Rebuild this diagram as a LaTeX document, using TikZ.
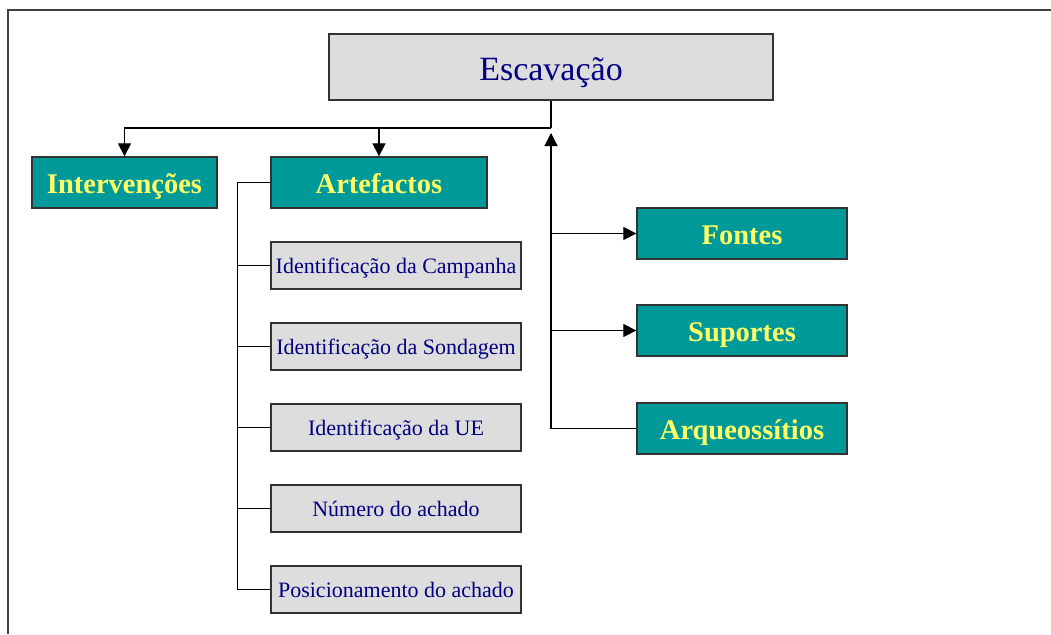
\documentclass[tikz,border=0pt]{standalone}
\usepackage{fontspec}
\setmainfont{Liberation Serif}
\usepackage{xcolor}
\usepackage{tikz}
\usetikzlibrary{arrows.meta}

\definecolor{tealbox}{HTML}{009999}
\definecolor{yellowtxt}{HTML}{FFFF66}
\definecolor{greybox}{HTML}{DDDDDD}
\definecolor{navytxt}{HTML}{000080}

\begin{document}
\begin{tikzpicture}[x=1pt,y=-1pt,
            every node/.style={draw=black!80,line width=1.3pt,inner sep=0pt,text depth=0pt},
            topbox/.style={fill=greybox,text=navytxt,minimum width=444pt,minimum height=66pt,text height=28pt,font=\fontsize{34}{36}\selectfont},
            mainbox/.style={fill=tealbox,text=yellowtxt,minimum height=51pt,text height=21pt,font=\fontsize{28.5}{30}\selectfont\bfseries},
            subbox/.style={fill=greybox,text=navytxt,minimum width=250pt,minimum height=47pt,text height=15.6pt,font=\fontsize{22}{24}\selectfont},
            link/.style={line width=1.2pt,-{Triangle[length=13pt,width=13pt]}}]
        \useasboundingbox (0,0) rectangle (1051,634);
        \draw[black!75,line width=1.6pt] (1051,10) -- (8,10) -- (8,634);

        \node[topbox] (esc) at (551,67) {Escavação};
        \node[mainbox,minimum width=185pt] (interv) at (124.5,182.5) {Intervenções};
        \node[mainbox,minimum width=216pt] (artef) at (379,182.5) {Artefactos};
        \node[mainbox,minimum width=210pt] (fontes) at (742,233.5) {Fontes};
        \node[mainbox,minimum width=210pt] (suport) at (742,330.5) {Suportes};
        \node[mainbox,minimum width=210pt] (arqueo) at (742,428.5) {Arqueossítios};

        \node[subbox] (campanha) at (396,265.5) {Identificação da Campanha};
        \node[subbox] (sondagem) at (396,346.5) {Identificação da Sondagem};
        \node[subbox] (ue) at (396,427.5) {Identificação da UE};
        \node[subbox] (numero) at (396,508.5) {Número do achado};
        \node[subbox] (posic) at (396,589.5) {Posicionamento do achado};

        \coordinate (hub) at (551,128);
        \coordinate (uptip) at (551,133);

        \draw[line width=1.2pt] (esc.south) -- (hub);
        \draw[link] (hub) -| (interv.north);
        \draw[link] (hub) -| (artef.north);

        \draw[link] (arqueo.west) -| (uptip);
        \draw[link] (uptip |- fontes.west) -- (fontes.west);
        \draw[link] (uptip |- suport.west) -- (suport.west);

        \draw[line width=1.2pt] (artef.west) -- ++(-33,0) |- (posic.west);
        \foreach \b in {campanha,sondagem,ue,numero}
            \draw[line width=1.2pt] (\b.west) -- ++(-33,0);
    \end{tikzpicture}
\end{document}
